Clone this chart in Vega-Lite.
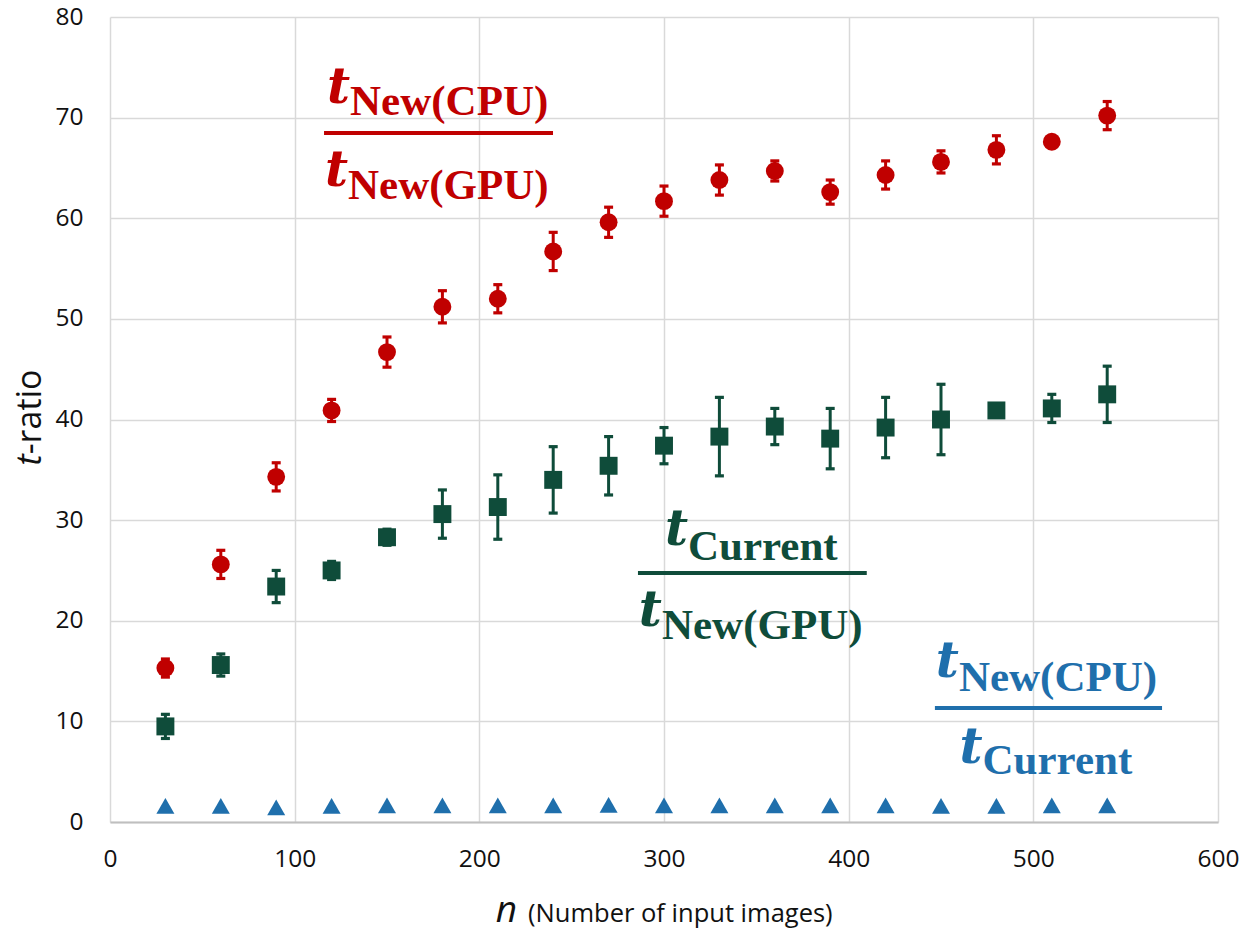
{
  "$schema": "https://vega.github.io/schema/vega-lite/v6.json",
  "width": 1108,
  "height": 805,
  "autosize": {"type": "none"},
  "padding": {"left": 110, "top": 17, "right": 35, "bottom": 108},
  "background": "white",
  "config": {
    "view": {"stroke": null},
    "axis": {
      "labelFont": "Open Sans",
      "labelFontSize": 24.5,
      "labelColor": "#111111",
      "labelFlush": false,
      "labelOverlap": false,
      "gridColor": "#d9d9d9",
      "gridWidth": 1.5,
      "ticks": false,
      "tickSize": 0,
      "title": null
    }
  },
  "datasets": {
    "points": [
      {"n": 30, "series": "CPU/GPU", "value": 15.3, "err": 0.9},
      {"n": 60, "series": "CPU/GPU", "value": 25.6, "err": 1.4},
      {"n": 90, "series": "CPU/GPU", "value": 34.3, "err": 1.4},
      {"n": 120, "series": "CPU/GPU", "value": 40.9, "err": 1.1},
      {"n": 150, "series": "CPU/GPU", "value": 46.7, "err": 1.5},
      {"n": 180, "series": "CPU/GPU", "value": 51.2, "err": 1.6},
      {"n": 210, "series": "CPU/GPU", "value": 52.0, "err": 1.4},
      {"n": 240, "series": "CPU/GPU", "value": 56.7, "err": 1.9},
      {"n": 270, "series": "CPU/GPU", "value": 59.6, "err": 1.5},
      {"n": 300, "series": "CPU/GPU", "value": 61.7, "err": 1.5},
      {"n": 330, "series": "CPU/GPU", "value": 63.8, "err": 1.5},
      {"n": 360, "series": "CPU/GPU", "value": 64.7, "err": 1.0},
      {"n": 390, "series": "CPU/GPU", "value": 62.6, "err": 1.2},
      {"n": 420, "series": "CPU/GPU", "value": 64.3, "err": 1.4},
      {"n": 450, "series": "CPU/GPU", "value": 65.6, "err": 1.1},
      {"n": 480, "series": "CPU/GPU", "value": 66.8, "err": 1.4},
      {"n": 510, "series": "CPU/GPU", "value": 67.6, "err": 0.3},
      {"n": 540, "series": "CPU/GPU", "value": 70.2, "err": 1.4},
      {"n": 30, "series": "Current/GPU", "value": 9.5, "err": 1.2},
      {"n": 60, "series": "Current/GPU", "value": 15.6, "err": 1.1},
      {"n": 90, "series": "Current/GPU", "value": 23.4, "err": 1.6},
      {"n": 120, "series": "Current/GPU", "value": 25.0, "err": 0.9},
      {"n": 150, "series": "Current/GPU", "value": 28.3, "err": 0.8},
      {"n": 180, "series": "Current/GPU", "value": 30.6, "err": 2.4},
      {"n": 210, "series": "Current/GPU", "value": 31.3, "err": 3.2},
      {"n": 240, "series": "Current/GPU", "value": 34.0, "err": 3.3},
      {"n": 270, "series": "Current/GPU", "value": 35.4, "err": 2.9},
      {"n": 300, "series": "Current/GPU", "value": 37.4, "err": 1.8},
      {"n": 330, "series": "Current/GPU", "value": 38.3, "err": 3.9},
      {"n": 360, "series": "Current/GPU", "value": 39.3, "err": 1.8},
      {"n": 390, "series": "Current/GPU", "value": 38.1, "err": 3.0},
      {"n": 420, "series": "Current/GPU", "value": 39.2, "err": 3.0},
      {"n": 450, "series": "Current/GPU", "value": 40.0, "err": 3.5},
      {"n": 480, "series": "Current/GPU", "value": 40.9, "err": 0.4},
      {"n": 510, "series": "Current/GPU", "value": 41.1, "err": 1.4},
      {"n": 540, "series": "Current/GPU", "value": 42.5, "err": 2.8},
      {"n": 30, "series": "CPU/Current", "value": 1.6, "err": null},
      {"n": 60, "series": "CPU/Current", "value": 1.6, "err": null},
      {"n": 90, "series": "CPU/Current", "value": 1.45, "err": null},
      {"n": 120, "series": "CPU/Current", "value": 1.6, "err": null},
      {"n": 150, "series": "CPU/Current", "value": 1.65, "err": null},
      {"n": 180, "series": "CPU/Current", "value": 1.65, "err": null},
      {"n": 210, "series": "CPU/Current", "value": 1.65, "err": null},
      {"n": 240, "series": "CPU/Current", "value": 1.65, "err": null},
      {"n": 270, "series": "CPU/Current", "value": 1.7, "err": null},
      {"n": 300, "series": "CPU/Current", "value": 1.65, "err": null},
      {"n": 330, "series": "CPU/Current", "value": 1.65, "err": null},
      {"n": 360, "series": "CPU/Current", "value": 1.65, "err": null},
      {"n": 390, "series": "CPU/Current", "value": 1.65, "err": null},
      {"n": 420, "series": "CPU/Current", "value": 1.65, "err": null},
      {"n": 450, "series": "CPU/Current", "value": 1.6, "err": null},
      {"n": 480, "series": "CPU/Current", "value": 1.6, "err": null},
      {"n": 510, "series": "CPU/Current", "value": 1.65, "err": null},
      {"n": 540, "series": "CPU/Current", "value": 1.65, "err": null}
    ],
    "fracLines": [
      {"series": "CPU/GPU", "x": 115.9, "x2": 239.9, "y": 68.47},
      {"series": "Current/GPU", "x": 285.9, "x2": 409.8, "y": 24.75},
      {"series": "CPU/Current", "x": 446.7, "x2": 569.7, "y": 11.33}
    ],
    "fracT": [
      {"series": "CPU/GPU", "x": 130.0, "y": 71.42, "text": "t"},
      {"series": "CPU/GPU", "x": 128.9, "y": 63.18, "text": "t"},
      {"series": "Current/GPU", "x": 313.0, "y": 27.5, "text": "t"},
      {"series": "Current/GPU", "x": 298.9, "y": 19.46, "text": "t"},
      {"series": "CPU/Current", "x": 459.7, "y": 14.41, "text": "t"},
      {"series": "CPU/Current", "x": 472.5, "y": 5.83, "text": "t"}
    ],
    "fracSub": [
      {"series": "CPU/GPU", "x": 130.0, "y": 70.23, "text": "New(CPU)"},
      {"series": "CPU/GPU", "x": 128.9, "y": 61.88, "text": "New(GPU)"},
      {"series": "Current/GPU", "x": 313.0, "y": 26.08, "text": "Current"},
      {"series": "Current/GPU", "x": 298.9, "y": 18.23, "text": "New(GPU)"},
      {"series": "CPU/Current", "x": 459.7, "y": 13.02, "text": "New(CPU)"},
      {"series": "CPU/Current", "x": 472.5, "y": 4.74, "text": "Current"}
    ],
    "xTitleMain": [{"x": 220.5, "y": -9.94, "text": "n"}],
    "xTitleRest": [{"x": 226.4, "y": -9.94, "text": "(Number of input images)"}],
    "yTitleMain": [{"x": -37.5, "y": 36.54, "text": "t"}],
    "yTitleRest": [{"x": -37.5, "y": 36.54, "text": "-ratio"}]
  },
  "layer": [
    {
      "data": {"name": "points"},
      "transform": [{"filter": "datum.err != null"}],
      "mark": {
        "type": "errorbar",
        "ticks": {"size": 9, "thickness": 3.2, "opacity": 1},
        "rule": {"strokeWidth": 3, "opacity": 1}
      },
      "encoding": {
        "x": {
          "field": "n",
          "type": "quantitative",
          "scale": {"domain": [0, 600], "nice": false, "zero": false},
          "axis": {
            "values": [0, 100, 200, 300, 400, 500, 600],
            "grid": true,
            "domain": true,
            "domainColor": "#bfbfbf",
            "domainWidth": 2,
            "labelPadding": 25,
            "title": null
          }
        },
        "y": {
          "field": "value",
          "type": "quantitative",
          "scale": {"domain": [0, 80], "nice": false, "zero": false},
          "axis": {
            "values": [0, 10, 20, 30, 40, 50, 60, 70, 80],
            "grid": true,
            "domain": false,
            "labelPadding": 27,
            "title": null
          }
        },
        "yError": {"field": "err"},
        "color": {
          "field": "series",
          "type": "nominal",
          "scale": {
            "domain": ["CPU/GPU", "Current/GPU", "CPU/Current"],
            "range": ["#C00000", "#0F4C3A", "#1F6FAC"]
          },
          "legend": null
        }
      }
    },
    {
      "data": {"name": "points"},
      "mark": {"type": "point", "filled": true, "opacity": 1},
      "encoding": {
        "x": {"field": "n", "type": "quantitative"},
        "y": {"field": "value", "type": "quantitative"},
        "color": {"field": "series", "type": "nominal", "legend": null},
        "shape": {
          "field": "series",
          "type": "nominal",
          "scale": {
            "domain": ["CPU/GPU", "Current/GPU", "CPU/Current"],
            "range": ["circle", "square", "triangle-up"]
          },
          "legend": null
        },
        "size": {
          "field": "series",
          "type": "nominal",
          "scale": {
            "domain": ["CPU/GPU", "Current/GPU", "CPU/Current"],
            "range": [320, 324, 340]
          },
          "legend": null
        }
      }
    },
    {
      "data": {"name": "fracLines"},
      "mark": {"type": "rule", "strokeWidth": 4},
      "encoding": {
        "x": {"field": "x", "type": "quantitative"},
        "x2": {"field": "x2"},
        "y": {"field": "y", "type": "quantitative"},
        "color": {"field": "series", "type": "nominal", "legend": null}
      }
    },
    {
      "data": {"name": "fracT"},
      "mark": {
        "type": "text",
        "font": "DejaVu Serif",
        "fontStyle": "italic",
        "fontWeight": "bold",
        "fontSize": 50,
        "align": "right",
        "baseline": "alphabetic"
      },
      "encoding": {
        "x": {"field": "x", "type": "quantitative"},
        "y": {"field": "y", "type": "quantitative"},
        "text": {"field": "text"},
        "color": {"field": "series", "type": "nominal", "legend": null}
      }
    },
    {
      "data": {"name": "fracSub"},
      "mark": {
        "type": "text",
        "font": "Liberation Serif",
        "fontWeight": "bold",
        "fontSize": 43,
        "align": "left",
        "baseline": "alphabetic"
      },
      "encoding": {
        "x": {"field": "x", "type": "quantitative"},
        "y": {"field": "y", "type": "quantitative"},
        "text": {"field": "text"},
        "color": {"field": "series", "type": "nominal", "legend": null}
      }
    },
    {
      "data": {"name": "xTitleMain"},
      "mark": {
        "type": "text",
        "font": "Open Sans",
        "fontStyle": "italic",
        "fontSize": 37,
        "align": "right",
        "baseline": "alphabetic",
        "color": "#111111"
      },
      "encoding": {
        "x": {"field": "x", "type": "quantitative"},
        "y": {"field": "y", "type": "quantitative"},
        "text": {"field": "text"}
      }
    },
    {
      "data": {"name": "xTitleRest"},
      "mark": {
        "type": "text",
        "font": "Open Sans",
        "fontSize": 25.5,
        "align": "left",
        "baseline": "alphabetic",
        "color": "#111111"
      },
      "encoding": {
        "x": {"field": "x", "type": "quantitative"},
        "y": {"field": "y", "type": "quantitative"},
        "text": {"field": "text"}
      }
    },
    {
      "data": {"name": "yTitleMain"},
      "mark": {
        "type": "text",
        "font": "Open Sans",
        "fontStyle": "italic",
        "fontSize": 34,
        "angle": 270,
        "align": "right",
        "baseline": "alphabetic",
        "color": "#111111"
      },
      "encoding": {
        "x": {"field": "x", "type": "quantitative"},
        "y": {"field": "y", "type": "quantitative"},
        "text": {"field": "text"}
      }
    },
    {
      "data": {"name": "yTitleRest"},
      "mark": {
        "type": "text",
        "font": "Open Sans",
        "fontSize": 34,
        "angle": 270,
        "align": "left",
        "baseline": "alphabetic",
        "color": "#111111"
      },
      "encoding": {
        "x": {"field": "x", "type": "quantitative"},
        "y": {"field": "y", "type": "quantitative"},
        "text": {"field": "text"}
      }
    }
  ]
}
